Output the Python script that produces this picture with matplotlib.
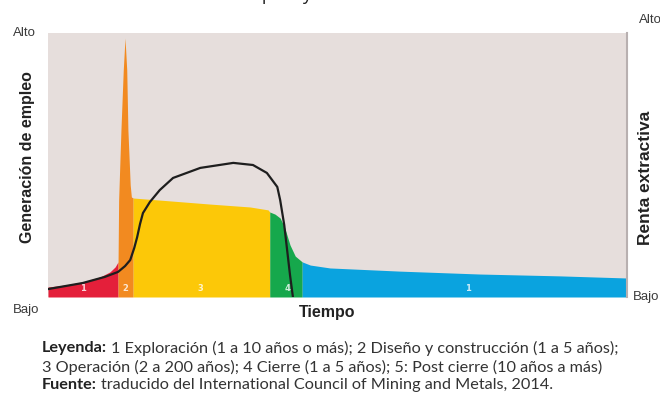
import matplotlib
matplotlib.use("Agg")
import matplotlib.pyplot as plt

# datos (tiempo 0-100, nivel 0-100)
t_expl = [0, 2.9, 6.0, 9.0, 10.7, 11.6, 12.1]
y_expl = [3.8, 4.5, 5.7, 7.6, 9.5, 11.4, 13.3]

t_dis = [12.1, 12.2, 12.6, 13.0, 13.3, 13.6, 13.8, 14.2, 14.4, 14.7]
y_dis = [13.3, 36.7, 63.3, 86.0, 98.1, 86.0, 63.3, 42.4, 37.9, 37.5]

t_oper = [14.7, 21.1, 28.0, 34.9, 38.0, 38.3]
y_oper = [37.5, 36.4, 35.2, 34.1, 33.0, 32.2]

t_cier = [38.3, 39.2, 40.1, 40.9, 41.8, 42.7, 43.9]
y_cier = [32.2, 31.4, 29.9, 26.1, 19.7, 15.5, 13.3]

t_post = [43.9, 45.3, 48.7, 60.8, 74.6, 88.4, 100]
y_post = [13.3, 12.1, 11.0, 9.8, 8.7, 8.0, 7.2]

# renta extractiva (linea negra)
t_renta = [0, 6.0, 9.8, 12.1, 13.3, 14.2, 14.9, 15.4, 15.9, 16.4, 17.6, 19.3,
           21.6, 26.3, 32.0, 35.4, 37.8, 39.6, 40.1, 40.8, 41.3, 41.8, 42.3]
y_renta = [3.0, 5.3, 7.6, 9.5, 11.7, 14.0, 18.6, 22.7, 27.7, 31.8, 36.0, 40.5,
           45.1, 48.9, 50.8, 50.0, 47.0, 41.7, 36.7, 27.3, 17.8, 8.3, 0]

etapas = ["1", "2", "3", "4", "1"]
etapas_x = [6.0, 13.3, 26.3, 41.3, 72.5]

fig = plt.figure(figsize=(6.6, 4.0), dpi=100)
ax = fig.add_axes([48/660, 1-297/400, 579/660, 264/400])
ax.set_facecolor("#e6dedc")

ax.fill_between(t_expl, 0, y_expl, color="#e41f3a", lw=0)
ax.fill_between(t_dis, 0, y_dis, color="#f28a20", lw=0)
ax.fill_between(t_oper, 0, y_oper, color="#fcc808", lw=0)
ax.fill_between(t_cier, 0, y_cier, color="#16a84c", lw=0)
ax.fill_between(t_post, 0, y_post, color="#0aa3df", lw=0)
ax.plot(t_renta, y_renta, color="#1e1e1e", lw=1.6)

for e, x in zip(etapas, etapas_x):
    ax.text(x, 3.4, e, color="white", fontsize=6, ha="center", va="center",
            alpha=0.8, fontweight="bold")

ax.set_xlim(0, 100)
ax.set_ylim(0, 100)
ax.set_xticks([])
ax.set_yticks([])
for s in ["left", "top", "bottom"]:
    ax.spines[s].set_visible(False)
ax.spines["right"].set_color("#b8b0b0")
ax.spines["right"].set_linewidth(1.5)

f = "Liberation Sans"
gris = "#3a3a3a"
fig.text(24/660, 1-33/400, "Alto", fontsize=9.5, family=f, ha="center", va="center", color=gris)
fig.text(26/660, 1-310/400, "Bajo", fontsize=9.5, family=f, ha="center", va="center", color=gris)
fig.text(650/660, 1-20/400, "Alto", fontsize=9.5, family=f, ha="center", va="center", color=gris)
fig.text(646/660, 1-297/400, "Bajo", fontsize=9.5, family=f, ha="center", va="center", color=gris)
fig.text(28/660, 1-157/400, "Generación de empleo", fontsize=11.5, family=f,
         fontweight="bold", rotation=90, ha="center", va="center", color="#222")
fig.text(646/660, 1-178/400, "Renta extractiva", fontsize=12.5, family=f,
         fontweight="bold", rotation=90, ha="center", va="center", color="#222")
fig.text(327/660, 1-313/400, "Tiempo", fontsize=11.5, family=f,
         fontweight="bold", ha="center", va="center", color="#222")

# titulo cortado arriba (solo se ven los descendentes)
fig.text(235/660, 1+0.5/400, "empleo y", fontsize=13, family="Open Sans",
         ha="left", va="baseline", color="#222")

fl = "Lato"
fs = 11.7
lines = [("Leyenda:", "1 Exploración (1 a 10 años o más); 2 Diseño y construcción (1 a 5 años);"),
         ("", "3 Operación (2 a 200 años); 4 Cierre (1 a 5 años); 5: Post cierre (10 años a más)"),
         ("Fuente:", "traducido del International Council of Mining and Metals, 2014.")]
ys = [348, 367, 385]
fig.canvas.draw()
rend = fig.canvas.get_renderer()
for (b, r), yy in zip(lines, ys):
    w = 0
    if b:
        t1 = fig.text(42/660, 1-yy/400, b, fontsize=fs, family=fl, fontweight="bold",
                      ha="left", va="center", color="#222")
        w = (t1.get_window_extent(renderer=rend).width + 4) / 660
    fig.text(42/660 + w, 1-yy/400, r, fontsize=fs, family=fl,
             ha="left", va="center", color="#333")

fig.savefig("out.png", dpi=100)
